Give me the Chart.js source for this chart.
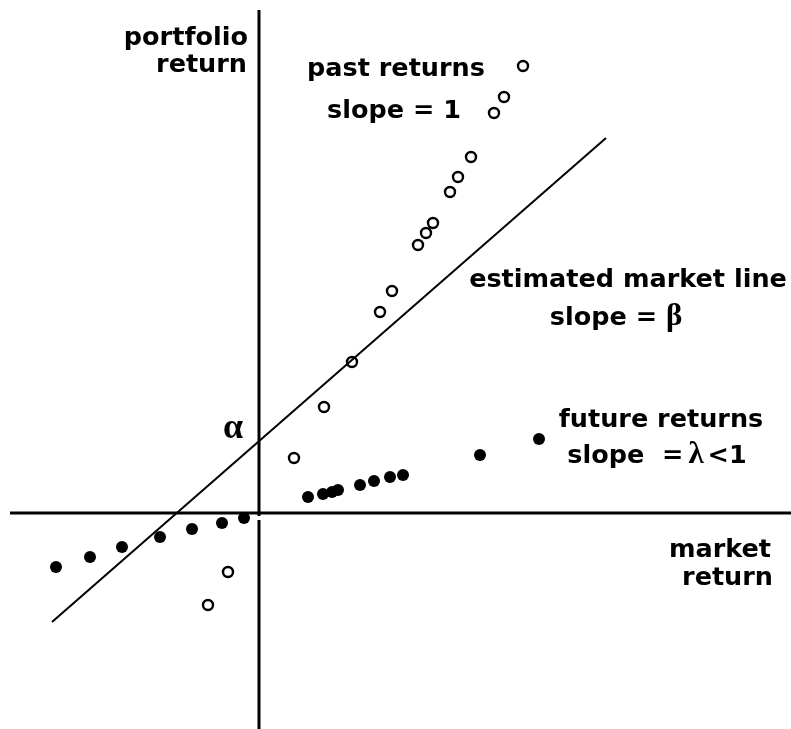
<!DOCTYPE html>
<html>
<head>
<meta charset="utf-8">
<style>
  html, body { margin: 0; padding: 0; background: #fff; }
  #wrap { width: 791px; height: 729px; position: relative; }
</style>
<script src="https://cdn.jsdelivr.net/npm/chart.js@4/dist/chart.umd.min.js"></script>
</head>
<body>
<div id="wrap"><canvas id="c"></canvas></div>
<script>
// ---- data (market return x, portfolio return y; arbitrary units, origin = axes crossing) ----
const pastX   = [26.4, 24.5, 23.5, 21.2, 19.9, 19.1, 17.4, 16.7, 15.9, 13.3, 12.1, 9.3, 6.5, 3.5, -3.1, -5.1];
const pastY   = [44.7, 41.6, 40.0, 35.6, 33.6, 32.1, 29.0, 28.0, 26.8, 22.2, 20.1, 15.1, 10.6, 5.5, -5.9, -9.2];
const futureX = [-20.3, -16.9, -13.7, -9.9, -6.7, -3.7, -1.5, 4.9, 6.4, 7.3, 7.9, 10.1, 11.5, 13.1, 14.4, 22.1, 28.0];
const futureY = [-5.4, -4.4, -3.4, -2.4, -1.6, -1.0, -0.5, 1.6, 1.9, 2.1, 2.3, 2.8, 3.2, 3.6, 3.8, 5.8, 7.4];
const lineX   = [-20.7, 34.7];          // estimated market line end points
const lineY   = [-10.9, 37.5];
const hAxisX  = [-24.9, 53.2];          // drawn horizontal axis extent
const vAxisTop = [50.3, -0.3];          // drawn vertical axis, upper piece
const vAxisBot = [-0.7, -21.6];         // drawn vertical axis, lower piece

const toPts = (xs, ys) => xs.map((x, i) => ({ x: x, y: ys[i] }));

const SANS  = 'bold 25.5px "DejaVu Sans"';
const SERIF = 'bold 31px "Liberation Serif"';
const ALPHA = 'bold 36px "Liberation Serif"';

const notes = [
  { runs: [['portfolio', SANS]], x: -1.1, y: 46.8, align: 'right' },
  { runs: [['return', SANS]], x: -1.2, y: 44.1, align: 'right' },
  { runs: [['past returns', SANS]], x: 13.7, y: 43.7, align: 'center' },
  { runs: [['slope = 1', SANS]], x: 13.5, y: 39.5, align: 'center' },
  { runs: [['estimated market line', SANS]], x: 36.9, y: 22.6, align: 'center' },
  { runs: [['slope = ', SANS], ['\u03B2', SERIF]], x: 35.7, y: 18.8, align: 'center' },
  { runs: [['future returns', SANS]], x: 40.2, y: 8.6, align: 'center' },
  { runs: [['slope  =', SANS], 5, ['\u03BB', SERIF], 4, ['<1', SANS]], x: 39.8, y: 5.0, align: 'center' },
  { runs: [['market', SANS]], x: 51.2, y: -4.4, align: 'right' },
  { runs: [['return', SANS]], x: 51.4, y: -7.2, align: 'right' },
  { runs: [['\u03B1', ALPHA]], x: -3.6, y: 7.5, align: 'left' }
];

const textPlugin = {
  id: 'notes',
  afterDatasetsDraw(chart) {
    const ctx = chart.ctx;
    const xs = chart.scales.x, ys = chart.scales.y;
    ctx.save();
    ctx.fillStyle = '#000';
    ctx.textBaseline = 'alphabetic';
    ctx.textAlign = 'left';
    notes.forEach(n => {
      let w = 0;
      n.runs.forEach(r => {
        if (typeof r === 'number') { w += r; return; }
        ctx.font = r[1]; w += ctx.measureText(r[0]).width;
      });
      const px = xs.getPixelForValue(n.x), py = ys.getPixelForValue(n.y);
      let cx = n.align === 'center' ? px - w / 2 : n.align === 'right' ? px - w : px;
      n.runs.forEach(r => {
        if (typeof r === 'number') { cx += r; return; }
        ctx.font = r[1];
        ctx.fillText(r[0], cx, py);
        cx += ctx.measureText(r[0]).width;
      });
    });
    ctx.restore();
  }
};

const lineDs = (pts, w) => ({
  type: 'line', data: pts, borderColor: '#000', borderWidth: w,
  pointRadius: 0, fill: false, tension: 0
});

new Chart(document.getElementById('c'), {
  type: 'scatter',
  data: {
    datasets: [
      lineDs(toPts(hAxisX, [0, 0]), 3),
      lineDs(toPts([0, 0], vAxisTop), 3),
      lineDs(toPts([0, 0], vAxisBot), 3),
      lineDs(toPts(lineX, lineY), 2),
      {
        label: 'past returns', data: toPts(pastX, pastY),
        pointStyle: 'circle', pointRadius: 5, borderWidth: 2.4,
        borderColor: '#000', backgroundColor: '#fff'
      },
      {
        label: 'future returns', data: toPts(futureX, futureY),
        pointStyle: 'circle', pointRadius: 6, borderWidth: 0,
        borderColor: '#000', backgroundColor: '#000'
      }
    ]
  },
  options: {
    responsive: true,
    maintainAspectRatio: false,
    animation: false,
    layout: { padding: 0, autoPadding: false },
    plugins: { legend: { display: false }, tooltip: { enabled: false } },
    scales: {
      x: { type: 'linear', min: -25.9, max: 53.2, display: false },
      y: { type: 'linear', min: -21.6, max: 51.3, display: false }
    }
  },
  plugins: [textPlugin]
});
</script>
</body>
</html>
